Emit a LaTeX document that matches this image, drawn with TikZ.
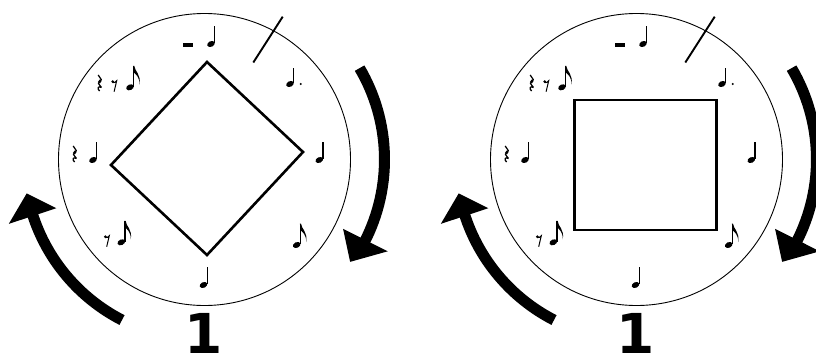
\documentclass[tikz,border=0pt]{standalone}
\usepackage{fontspec}
\newfontfamily\numfont{DejaVu Sans}
\tikzset{
  thinline/.style={line width=0.9pt},
  shapeline/.style={line width=2.6pt, line join=miter},
  slashline/.style={line width=1.9pt},
  arrowshaft/.style={line width=11pt},
  numlabel/.style={font=\numfont\bfseries\fontsize{55}{60}\selectfont, inner sep=0pt, anchor=base},
  qnote/.pic={
    \begin{scope}[yscale=-1]
    \fill[rotate=-25] (0,0) ellipse[x radius=4.0, y radius=2.8];
    \draw[line width=1.1pt] (3.7,-0.6) -- (3.7,-18.5);
    \end{scope}
  },
  dqnote/.pic={
    \begin{scope}[yscale=-1]
    \fill[rotate=-25] (0,0) ellipse[x radius=4.0, y radius=2.8];
    \draw[line width=1.1pt] (3.7,-0.6) -- (3.7,-16);
    \end{scope}
  },
  enote/.pic={
    \begin{scope}[yscale=-1]
    \fill[rotate=-25] (0,0) ellipse[x radius=4.0, y radius=2.8];
    \draw[line width=1.1pt] (3.7,-0.6) -- (3.7,-21.5);
    \fill (3.15,-21.5) -- (4.2,-21.5) .. controls (4.8,-16) and (11.2,-13) .. (9.5,-3)
          .. controls (9.6,-10.5) and (5.7,-13) .. (4.2,-14.5) -- cycle;
    \end{scope}
  },
  qrest/.pic={
    \begin{scope}[yscale=-1]
    \draw[line width=1.2pt, line join=round] (1.2,0) -- (4.3,4.6) -- (1.4,8.4) -- (4.4,12.4);
    \draw[line width=2.4pt] (3.6,5.2) -- (1.9,7.8);
    \draw[line width=1.3pt] (4.4,12.4) .. controls (1,10.6) and (-0.2,13.6) .. (2.6,16);
    \end{scope}
  },
  erest/.pic={
    \begin{scope}[yscale=-1]
    \fill (0,0) circle[radius=1.5];
    \draw[line width=1.0pt] (0,0.9) .. controls (1.5,1.3) and (3,0.4) .. (4,-1) -- (1.4,10);
    \end{scope}
  }
}
\begin{document}
\begin{tikzpicture}[x=1pt,y=1pt,yscale=-1]
\fill[white] (0,0) rectangle (816,356);
\clip (0,0) rectangle (816,356);
\foreach \dx/\nm in {0/L, 432/R}{
\begin{scope}[shift={(\dx,0)}]
  \draw[thinline] (204.5,159.5) circle[radius=146];
  \draw[slashline] (282.7,16.7) -- (253.3,62.5);
  % top group
  \fill (183.3,43.3) rectangle (192.7,46.7);
  \pic at (211,44) {qnote};
  % upper-left group
  \pic at (97,75) {qrest};
  \pic at (112.7,81.7) {erest};
  \pic at (130,87.3) {enote};
  % left group
  \pic at (72,146) {qrest};
  \pic at (93,160) {qnote};
  % lower-left group
  \pic at (105.3,236.7) {erest};
  \pic at (121.3,242.3) {enote};
  % bottom
  \pic at (203.5,285) {qnote};
  % lower right
  \pic at (296.7,245) {enote};
  % right
  \pic at (319.3,160) {qnote};
  % upper right dotted quarter
  \pic at (290,84) {dqnote};
  \fill (300.7,84) circle[radius=1.2];
  % arrows
  \begin{scope}[shift={(204.5,159.5)}]
    \draw[arrowshaft] (-30.5:180) arc[start angle=-30.5, end angle=27.2, radius=180];
    \fill (26.6:155) -- (26.6:205) -- (35.1:178) -- cycle;
    \draw[arrowshaft] (117.2:180.5) arc[start angle=117.2, end angle=162.4, radius=180.5];
    \fill (161.8:156) -- (161.8:206) -- (169.2:181) -- cycle;
  \end{scope}
  \node[numlabel] (num\nm) at (203.3,353.5) {1};
\end{scope}
}
% inner shapes
\draw[shapeline] (207,62) -- (303,152) -- (207,255) -- (111,165) -- cycle;
\draw[shapeline] (574.7,100) rectangle (716.3,230);
\end{tikzpicture}
\end{document}
